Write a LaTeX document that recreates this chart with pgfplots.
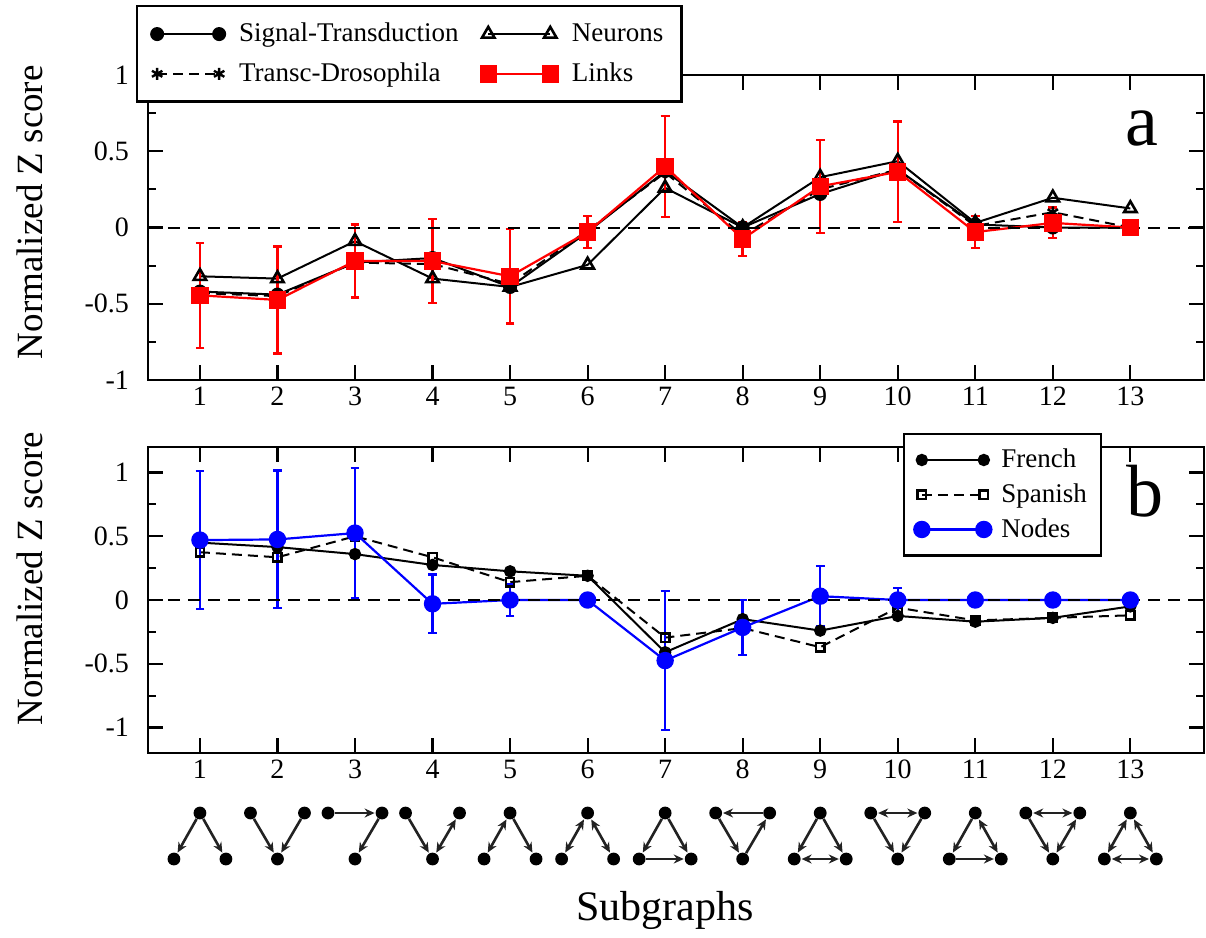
\documentclass[border=0pt]{standalone}
\usepackage{fontspec}
\setmainfont{Liberation Serif}
\usepackage{pgfplots}
\pgfplotsset{compat=1.18}
\usetikzlibrary{arrows.meta}

\definecolor{linkred}{HTML}{FF0000}
\definecolor{nodeblue}{HTML}{0000FF}
\definecolor{icongrey}{HTML}{222222}

\pgfplotsset{
  legend image code/.code={\draw[#1] plot coordinates {(0pt,0pt) (31pt,0pt)};},
  zpanel/.style={
    scale only axis, width=528pt, height=152.5pt,
    xmin=0.33, xmax=13.95, xtick={1,...,13},
    ytick={-1,-0.5,0,0.5,1}, yticklabels={-1,-0.5,0,0.5,1},
    minor y tick num=1,
    tick align=inside, tick pos=both,
    xticklabel pos=bottom, yticklabel pos=left,
    major tick length=7.5pt, minor tick length=4pt,
    axis line style={line width=1.2pt},
    every tick/.style={black,line width=1.1pt},
    tick label style={font=\fontsize{14}{17}\selectfont},
    yticklabel style={xshift=-6pt},
    /pgf/number format/assume math mode=true,
    ylabel={Normalized Z score},
    clip=false,
    legend cell align=left,
  },
}

\tikzset{
  nd/.style={circle,fill=black,inner sep=0pt,minimum size=6.4pt},
  ar/.style={draw=icongrey,line width=1.3pt,-{Stealth[length=5pt,width=4.5pt]},shorten >=0.3pt},
  br/.style={draw=icongrey,line width=1.3pt,{Stealth[length=5pt,width=4.5pt]}-{Stealth[length=5pt,width=4.5pt]},shorten >=0.3pt,shorten <=0.3pt},
}
\newcommand\upicon[1]{%
  \node[nd] (T) at ([yshift=-30pt]s#1) {};
  \node[nd] (L) at ([xshift=-13pt,yshift=-53pt]s#1) {};
  \node[nd] (R) at ([xshift=13pt,yshift=-53pt]s#1) {};}
\newcommand\downicon[1]{%
  \node[nd] (L) at ([xshift=-13.5pt,yshift=-30pt]s#1) {};
  \node[nd] (R) at ([xshift=13.5pt,yshift=-30pt]s#1) {};
  \node[nd] (B) at ([yshift=-53pt]s#1) {};}

\begin{document}
\begin{tikzpicture}
\useasboundingbox (0,0) rectangle (603pt,-469pt);

% ---------- panel a ----------
\begin{axis}[zpanel,
  at={(74pt,-37.5pt)}, anchor=north west,
  ymin=-1, ymax=1,
  every axis y label/.style={at={(rel axis cs:-0.112,0.55)},rotate=90,anchor=center,
    font=\fontsize{18.5}{22}\selectfont},
  legend columns=2,
  legend style={at={(-0.0114,1.2295)},anchor=north west,draw=black,line width=1.2pt,
    font=\fontsize{13.5}{16}\selectfont,row sep=5pt,inner xsep=7pt,inner ysep=6.5pt,
    /tikz/every odd column/.append style={column sep=5pt},
    /tikz/every even column/.append style={column sep=9pt}},
]
\addplot[black,line width=1pt,mark=*,mark size=3pt] coordinates {
  (1,-0.42) (2,-0.44) (3,-0.23) (4,-0.20) (5,-0.39) (6,-0.03) (7,0.37)
  (8,0.00) (9,0.22) (10,0.38) (11,0.02) (12,0.00) (13,0.00)};
\addplot[black,line width=1pt,mark=triangle,mark size=3.6pt,mark options={line width=1.3pt}] coordinates {
  (1,-0.32) (2,-0.335) (3,-0.09) (4,-0.335) (5,-0.39) (6,-0.245) (7,0.26)
  (8,0.00) (9,0.33) (10,0.435) (11,0.03) (12,0.195) (13,0.125)};
\addplot[black,line width=1pt,dash pattern=on 5pt off 3pt,mark=asterisk,mark size=3pt,mark options={solid,line width=1.2pt}] coordinates {
  (1,-0.43) (2,-0.45) (3,-0.23) (4,-0.24) (5,-0.37) (6,-0.02) (7,0.36)
  (8,-0.05) (9,0.25) (10,0.38) (11,0.01) (12,0.10) (13,0.00)};
\addplot[linkred,line width=1.1pt,mark=square*,mark size=3.8pt,
  error bars/.cd,y dir=both,y explicit,
  error bar style={line width=1.2pt},
  error mark options={rotate=90,mark size=2.2pt,line width=1.2pt}] coordinates {
  (1,-0.445) +- (0,0.345) (2,-0.475) +- (0,0.35) (3,-0.22) +- (0,0.24)
  (4,-0.22) +- (0,0.275) (5,-0.32) +- (0,0.31) (6,-0.03) +- (0,0.105)
  (7,0.40) +- (0,0.33) (8,-0.075) +- (0,0.11) (9,0.27) +- (0,0.305)
  (10,0.365) +- (0,0.33) (11,-0.03) +- (0,0.105) (12,0.03) +- (0,0.10)
  (13,0.00) +- (0,0)};
\draw[black,line width=1pt,dash pattern=on 6pt off 4pt]
  ({rel axis cs:0,0}|-{axis cs:1,0}) -- ({rel axis cs:1,0}|-{axis cs:1,0});
\node[font=\fontsize{37}{40}\selectfont] at (rel axis cs:0.941,0.826) {a};
\legend{Signal-Transduction, Neurons, Transc-Drosophila, Links}
\end{axis}

% ---------- panel b ----------
\begin{axis}[zpanel,
  at={(74pt,-223.5pt)}, anchor=north west,
  height=153pt,
  ymin=-1.2, ymax=1.2,
  xlabel={Subgraphs},
  every axis x label/.style={at={(rel axis cs:0.4896,-0.515)},anchor=center,
    font=\fontsize{21}{25}\selectfont},
  every axis y label/.style={at={(rel axis cs:-0.112,0.57)},rotate=90,anchor=center,
    font=\fontsize{18.5}{22}\selectfont},
  legend style={at={(0.715,1.046)},anchor=north west,draw=black,line width=1.2pt,
    font=\fontsize{13.5}{16}\selectfont,row sep=2.5pt,inner xsep=5pt,inner ysep=5.5pt,
    /tikz/every odd column/.append style={column sep=3pt}},
]
\addplot[black,line width=1pt,mark=*,mark size=2.6pt] coordinates {
  (1,0.45) (2,0.415) (3,0.36) (4,0.275) (5,0.225) (6,0.19) (7,-0.41)
  (8,-0.15) (9,-0.24) (10,-0.125) (11,-0.17) (12,-0.14) (13,-0.05)};
\addplot[black,line width=1pt,dash pattern=on 5pt off 3pt,mark=square,mark size=2.1pt,mark options={solid,line width=1.2pt}] coordinates {
  (1,0.375) (2,0.335) (3,0.50) (4,0.335) (5,0.14) (6,0.19) (7,-0.295)
  (8,-0.22) (9,-0.37) (10,-0.06) (11,-0.16) (12,-0.14) (13,-0.12)};
\addplot[nodeblue,line width=1.1pt,mark=*,mark size=3.8pt,
  error bars/.cd,y dir=both,y explicit,
  error bar style={line width=1.2pt},
  error mark options={rotate=90,mark size=2.2pt,line width=1.2pt}] coordinates {
  (1,0.47) +- (0,0.54) (2,0.475) +- (0,0.54) (3,0.525) +- (0,0.51)
  (4,-0.03) +- (0,0.23) (5,0.00) +- (0,0.125) (6,0.00) +- (0,0.01)
  (7,-0.475) +- (0,0.545) (8,-0.215) +- (0,0.215) (9,0.03) +- (0,0.235)
  (10,0.00) +- (0,0.095) (11,0.00) +- (0,0.03) (12,0.00) +- (0,0)
  (13,0.00) +- (0,0)};
\draw[black,line width=1pt,dash pattern=on 6pt off 4pt]
  ({rel axis cs:0,0}|-{axis cs:1,0}) -- ({rel axis cs:1,0}|-{axis cs:1,0});
\node[font=\fontsize{37}{40}\selectfont] at (rel axis cs:0.944,0.856) {b};
\pgfplotsinvokeforeach{1,...,13}{\coordinate (s#1) at (axis cs:#1,-1.2);}
\legend{French, Spanish, Nodes}
\end{axis}

% ---------- subgraph icons ----------
\upicon{1}   \draw[ar] (T)--(L); \draw[ar] (T)--(R);
\downicon{2} \draw[ar] (L)--(B); \draw[ar] (R)--(B);
\downicon{3} \draw[ar] (L)--(R); \draw[ar] (R)--(B);
\downicon{4} \draw[ar] (L)--(B); \draw[br] (B)--(R);
\upicon{5}   \draw[br] (T)--(L); \draw[ar] (T)--(R);
\upicon{6}   \draw[br] (T)--(L); \draw[br] (T)--(R);
\upicon{7}   \draw[ar] (T)--(L); \draw[ar] (T)--(R); \draw[ar] (L)--(R);
\downicon{8} \draw[ar] (R)--(L); \draw[ar] (L)--(B); \draw[ar] (B)--(R);
\upicon{9}   \draw[ar] (T)--(L); \draw[ar] (T)--(R); \draw[br] (L)--(R);
\downicon{10} \draw[br] (L)--(R); \draw[ar] (L)--(B); \draw[ar] (R)--(B);
\upicon{11}  \draw[ar] (T)--(L); \draw[br] (T)--(R); \draw[ar] (L)--(R);
\downicon{12} \draw[br] (L)--(R); \draw[ar] (L)--(B); \draw[br] (B)--(R);
\upicon{13}  \draw[br] (T)--(L); \draw[br] (T)--(R); \draw[br] (L)--(R);
\end{tikzpicture}
\end{document}
